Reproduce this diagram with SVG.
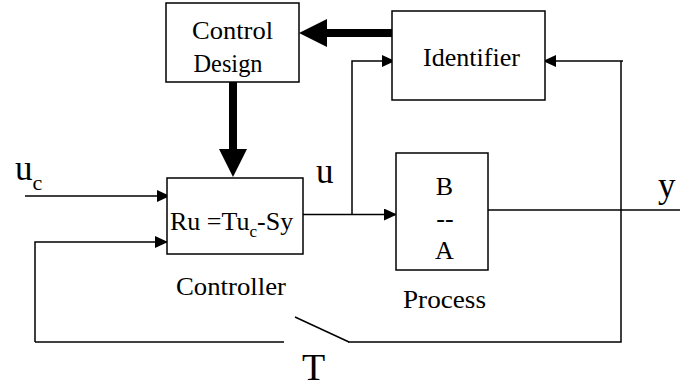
<svg xmlns="http://www.w3.org/2000/svg" width="698" height="387" viewBox="0 0 698 387">
<defs>
<style>
.box{fill:#fff;stroke:#000;stroke-width:1.5}
.ln{fill:none;stroke:#000;stroke-width:1.5}
.thick{fill:none;stroke:#000;stroke-width:8}
text{font-family:"Liberation Serif","Times New Roman",Times,serif;fill:#000}
.lbl{font-size:26px;text-anchor:middle}
.big{font-size:35px}
</style>
<marker id="ah" viewBox="0 0 13 12" refX="12" refY="6" markerWidth="13" markerHeight="12" markerUnits="userSpaceOnUse" orient="auto">
<path d="M0,0 L13,6 L0,12 z" fill="#000"/>
</marker>
<marker id="tah" viewBox="0 0 28 28" refX="0" refY="14" markerWidth="28" markerHeight="28" markerUnits="userSpaceOnUse" orient="auto">
<path d="M0,0 L28,14 L0,28 z" fill="#000"/>
</marker>
</defs>
<rect width="698" height="387" fill="#fff"/>
<g id="connectors">
<line class="thick" x1="392" y1="33" x2="327" y2="33" marker-end="url(#tah)"/>
<line class="thick" x1="233" y1="82" x2="233" y2="149" marker-end="url(#tah)"/>
<line class="ln" x1="25" y1="196" x2="169" y2="196" marker-end="url(#ah)"/>
<polyline class="ln" points="35,342 35,242 167,242" marker-end="url(#ah)"/>
<line class="ln" x1="35" y1="342" x2="284" y2="342"/>
<line class="ln" x1="295" y1="317" x2="349" y2="342"/>
<polyline class="ln" points="348,342 621,342 621,61"/>
<line class="ln" x1="623" y1="61" x2="544" y2="61" marker-end="url(#ah)"/>
<line class="ln" x1="303" y1="214.5" x2="396" y2="214.5" marker-end="url(#ah)"/>
<polyline class="ln" points="352,214.5 352,61 394,61" marker-end="url(#ah)"/>
<line class="ln" x1="488" y1="210" x2="680" y2="210"/>
</g>
<g id="control-design">
<rect class="box" x="166" y="3" width="133" height="79"/>
<text class="lbl" x="232.5" y="39" textLength="81" lengthAdjust="spacingAndGlyphs">Control</text>
<text class="lbl" x="228" y="72" textLength="69" lengthAdjust="spacingAndGlyphs">Design</text>
</g>
<g id="identifier">
<rect class="box" x="392" y="11" width="153" height="89"/>
<text class="lbl" x="471.5" y="66" textLength="97" lengthAdjust="spacingAndGlyphs">Identifier</text>
</g>
<g id="controller">
<rect class="box" x="167" y="178" width="136" height="76"/>
<text x="170" y="230" font-size="26">Ru =Tu<tspan font-size="17" dy="7">c</tspan><tspan dy="-7">-Sy</tspan></text>
<text class="lbl" x="231" y="295" textLength="110" lengthAdjust="spacingAndGlyphs">Controller</text>
</g>
<g id="process">
<rect class="box" x="396" y="153" width="92" height="117"/>
<text class="lbl" x="444.5" y="195">B</text>
<text class="lbl" x="445" y="227">--</text>
<text class="lbl" x="444.5" y="259">A</text>
<text class="lbl" x="444.5" y="308" textLength="83" lengthAdjust="spacingAndGlyphs">Process</text>
</g>
<g id="labels">
<text class="big" x="15" y="180">u<tspan font-size="22" dy="10">c</tspan></text>
<text class="big" x="316" y="183">u</text>
<text class="big" x="658" y="197">y</text>
<text x="302" y="380" font-size="38">T</text>
</g>
</svg>
